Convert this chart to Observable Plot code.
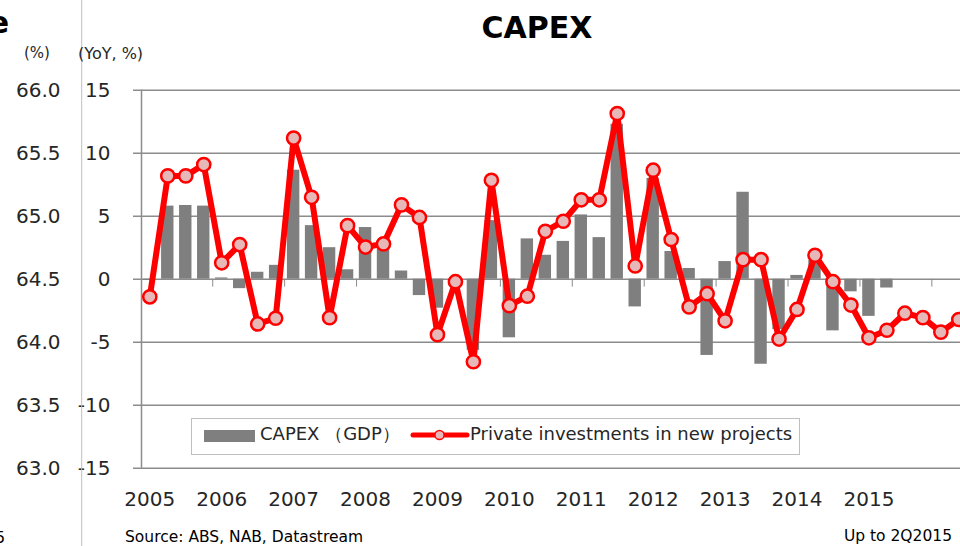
<!DOCTYPE html>
<html><head><meta charset="utf-8">
<script src="https://cdn.jsdelivr.net/npm/d3@7"></script>
<script src="https://cdn.jsdelivr.net/npm/@observablehq/plot@0.6"></script>
<style>
html,body{margin:0;padding:0;background:#fff;overflow:hidden;}
#wrap{position:relative;width:960px;height:546px;overflow:hidden;font-family:"DejaVu Sans",Verdana,sans-serif;}
#wrap svg{position:absolute;left:0;top:0;}
</style></head><body><div id="wrap"></div>
<script>
// ---- data ----
const quarters = [
  "2005Q1","2005Q2","2005Q3","2005Q4","2006Q1","2006Q2","2006Q3","2006Q4",
  "2007Q1","2007Q2","2007Q3","2007Q4","2008Q1","2008Q2","2008Q3","2008Q4",
  "2009Q1","2009Q2","2009Q3","2009Q4","2010Q1","2010Q2","2010Q3","2010Q4",
  "2011Q1","2011Q2","2011Q3","2011Q4","2012Q1","2012Q2","2012Q3","2012Q4",
  "2013Q1","2013Q2","2013Q3","2013Q4","2014Q1","2014Q2","2014Q3","2014Q4",
  "2015Q1","2015Q2","2015Q3","2015Q4","2016Q1","2016Q2"
];
// CAPEX (GDP), YoY % — bars, up to 2Q2015
const capex = [
  -0.1, 5.8, 5.85, 5.8, 0.1, -0.75, 0.55, 1.1,
  8.65, 4.25, 2.5, 0.75, 4.1, 2.8, 0.65, -1.3,
  -2.3, -0.5, -5.65, 4.65, -4.65, 3.2, 1.9, 3.0,
  5.1, 3.3, 12.3, -2.2, 8.0, 2.2, 0.85, -6.05,
  1.4, 6.9, -6.75, -4.0, 0.3, 1.5, -4.1, -1.0,
  -2.95, -0.7
];
// Private investments in new projects, YoY % — line
const privateInv = [
  -1.4, 8.2, 8.2, 9.1, 1.3, 2.75, -3.55, -3.1,
  11.2, 6.5, -3.05, 4.25, 2.55, 2.8, 5.9, 4.9,
  -4.4, -0.2, -6.55, 7.85, -2.1, -1.35, 3.8, 4.6,
  6.3, 6.3, 13.15, 1.05, 8.65, 3.15, -2.2, -1.15,
  -3.3, 1.55, 1.55, -4.75, -2.4, 1.9, -0.2, -2.05,
  -4.65, -4.05, -2.7, -3.05, -4.2, -3.2
];
const years = ["2005","2006","2007","2008","2009","2010","2011","2012","2013","2014","2015"];
const yTicks = [15, 10, 5, 0, -5, -10, -15];
const yLabels = ["15", "10", "5", "0", "-5", "-10", "-15"];
const leftTicks = ["66.0","65.5","65.0","64.5","64.0","63.5","63.0"];

// ---- derived tables ----
const capexRows = capex.map((v, i) => ({q: quarters[i], i, v}));
const invRows = privateInv.map((v, i) => ({q: quarters[i], i, v}));
const yearTicks = years.map(y => quarters.indexOf(y + "Q1"));
const yearMap = new Map(yearTicks.map((t, k) => [t, years[k]]));
const yMap = new Map(yTicks.map((t, k) => [t, yLabels[k]]));
const leftMap = new Map(yTicks.map((t, k) => [t, leftTicks[k]]));
const boundaries = quarters.map((q, i) => (q.endsWith("Q1") && i > 0) ? i - 0.5 : null).filter(d => d !== null);

const X0 = -0.462, X1 = 45.094;
const grid = "#8c8c8c";

const chart = Plot.plot({
  width: 960, height: 546,
  marginTop: 89.7, marginBottom: 78.3, marginLeft: 141, marginRight: 0,
  style: {fontFamily: '"DejaVu Sans", Verdana, sans-serif', fontSize: "20px", color: "#262626", background: "transparent", overflow: "hidden"},
  x: {type: "linear", domain: [X0, X1], label: null},
  y: {domain: [-15, 15], label: null},
  marks: [
    Plot.ruleY(yTicks, {stroke: grid, strokeWidth: 1.5, insetLeft: -8}),
    Plot.ruleX([X0], {stroke: grid, strokeWidth: 1.5}),
    Plot.ruleX(boundaries, {y1: 0, y2: -0.63, stroke: grid, strokeWidth: 1}),
    Plot.rect(capexRows, {x1: d => d.i - 0.345, x2: d => d.i + 0.345, y1: 0, y2: "v", fill: "#7f7f7f"}),
    Plot.line(invRows, {x: "i", y: "v", stroke: "#ff0000", strokeWidth: 6, strokeLinejoin: "round"}),
    Plot.dot(invRows, {x: "i", y: "v", r: 6.6, fill: "#e6b9b8", stroke: "#ff0000", strokeWidth: 2.5}),
    Plot.axisY(yTicks, {tickSize: 0, tickPadding: 31, fontSize: 20, tickFormat: d => yMap.get(d)}),
    Plot.axisY(yTicks, {tickSize: 0, tickPadding: 81, fontSize: 20, tickFormat: d => leftMap.get(d)}),
    Plot.axisX(yearTicks, {tickSize: 0, tickPadding: 24, fontSize: 20, tickFormat: d => yearMap.get(d)})
  ]
});
const wrap = document.getElementById("wrap");
wrap.appendChild(chart);

// ---- overlay texts & legend ----
const svg = d3.select(wrap).append("svg").attr("width", 960).attr("height", 546)
  .style("font-family", '"DejaVu Sans", Verdana, sans-serif').style("pointer-events", "none");

svg.append("line").attr("x1", 81.7).attr("x2", 81.7).attr("y1", 0).attr("y2", 546)
  .attr("stroke", "#bfbfbf").attr("stroke-width", 1);

svg.append("text").attr("x", 537).attr("y", 38).attr("text-anchor", "middle")
  .attr("font-size", 30).attr("font-weight", "bold").attr("fill", "#000").text("CAPEX");
svg.append("text").attr("x", 9).attr("y", 33).attr("text-anchor", "end")
  .attr("font-size", 30).attr("font-weight", "bold").attr("fill", "#000").text("e");

svg.append("text").attr("x", 37).attr("y", 58).attr("text-anchor", "middle")
  .attr("font-size", 15).attr("fill", "#262626").text("(%)");
svg.append("text").attr("x", 78).attr("y", 59)
  .attr("font-size", 16).attr("fill", "#262626").text("(YoY, %)");

// legend
const lg = svg.append("g");
lg.append("rect").attr("x", 191.5).attr("y", 418.5).attr("width", 608).attr("height", 36)
  .attr("fill", "#fff").attr("stroke", "#bfbfbf").attr("stroke-width", 1);
lg.append("rect").attr("x", 204).attr("y", 430).attr("width", 51).attr("height", 12).attr("fill", "#7f7f7f");
lg.append("text").attr("x", 260).attr("y", 440).attr("font-size", 18).attr("fill", "#262626").text("CAPEX （GDP）");
lg.append("line").attr("x1", 413).attr("x2", 467).attr("y1", 435).attr("y2", 435)
  .attr("stroke", "#ff0000").attr("stroke-width", 5).attr("stroke-linecap", "round");
lg.append("circle").attr("cx", 439.5).attr("cy", 435).attr("r", 4.6)
  .attr("fill", "#e6b9b8").attr("stroke", "#ff0000").attr("stroke-width", 1.5);
lg.append("text").attr("x", 470).attr("y", 440).attr("font-size", 18).attr("fill", "#262626").text("Private investments in new projects");

svg.append("text").attr("x", 125).attr("y", 542).attr("font-size", 15.5).attr("fill", "#000").text("Source: ABS, NAB, Datastream");
svg.append("text").attr("x", 952).attr("y", 541).attr("text-anchor", "end").attr("font-size", 15.5).attr("fill", "#000").text("Up to 2Q2015");
svg.append("text").attr("x", 5).attr("y", 543).attr("text-anchor", "end").attr("font-size", 15.5).attr("fill", "#000").text("5");
</script>
</body></html>
